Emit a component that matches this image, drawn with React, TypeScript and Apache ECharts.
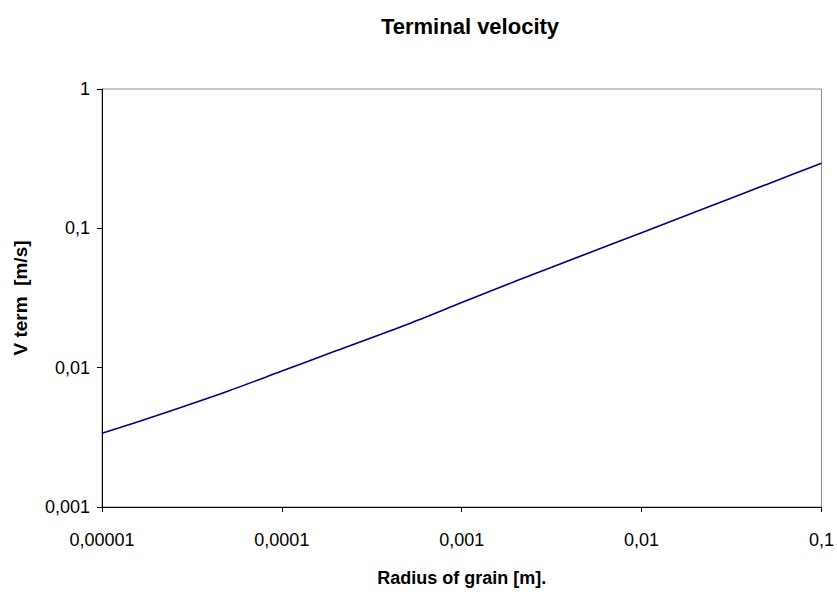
import React, { useEffect, useRef } from "react";
import * as echarts from "echarts";

// Grain radius [m] and the matching terminal velocity [m/s]
const radius = [1e-5, 2e-5, 5e-5, 1e-4, 2e-4, 5e-4, 1e-3, 2e-3, 5e-3, 1e-2, 2e-2, 5e-2, 1e-1];
const vTerm = [0.00338, 0.00452, 0.00678, 0.00946, 0.0132, 0.0205, 0.0293, 0.0418, 0.0661, 0.0931, 0.1315, 0.2075, 0.293];

// Decade tick labels, written with a decimal comma
const xTickLabels: Record<number, string> = { [-5]: "0,00001", [-4]: "0,0001", [-3]: "0,001", [-2]: "0,01", [-1]: "0,1" };
const yTickLabels: Record<number, string> = { [-3]: "0,001", [-2]: "0,01", [-1]: "0,1", [0]: "1" };

const FONT = "'Liberation Sans', Arial, sans-serif";

export default function App() {
  const ref = useRef<HTMLDivElement>(null);

  useEffect(() => {
    if (!ref.current) return;
    const chart = echarts.init(ref.current, undefined, { renderer: "svg" });
    const expOf = (v: number) => Math.round(Math.log10(v));

    chart.setOption({
      animation: false,
      backgroundColor: "#ffffff",
      title: {
        text: "Terminal velocity",
        left: 465,
        top: 10,
        textAlign: "center",
        textStyle: { fontFamily: FONT, fontSize: 22, fontWeight: "bold", color: "#000" },
      },
      grid: {
        left: 102,
        right: 15,
        top: 89,
        bottom: 87,
        show: true,
        borderColor: "#8c8c8c",
        borderWidth: 1,
        backgroundColor: "#ffffff",
      },
      xAxis: {
        type: "log",
        logBase: 10,
        min: 1e-5,
        max: 0.1,
        name: "Radius of grain [m].",
        nameLocation: "middle",
        nameGap: 62,
        nameTextStyle: { fontFamily: FONT, fontSize: 18, fontWeight: "bold", color: "#000" },
        axisLine: { show: true, onZero: false, lineStyle: { color: "#000", width: 1 } },
        axisTick: { show: true, inside: false, length: 5, lineStyle: { color: "#000" } },
        minorTick: { show: false },
        splitLine: { show: false },
        axisLabel: {
          margin: 24,
          fontFamily: FONT,
          fontSize: 18,
          color: "#000",
          formatter: (v: number) => xTickLabels[expOf(v)] ?? "",
        },
      },
      yAxis: {
        type: "log",
        logBase: 10,
        min: 0.001,
        max: 1,
        name: "V term  [m/s]",
        nameLocation: "middle",
        nameGap: 72,
        nameTextStyle: { fontFamily: FONT, fontSize: 19, fontWeight: "bold", color: "#000" },
        axisLine: { show: true, onZero: false, lineStyle: { color: "#000", width: 1 } },
        axisTick: { show: true, inside: false, length: 5, lineStyle: { color: "#000" } },
        minorTick: { show: false },
        splitLine: { show: false },
        axisLabel: {
          margin: 12,
          fontFamily: FONT,
          fontSize: 18,
          color: "#000",
          formatter: (v: number) => yTickLabels[expOf(v)] ?? "",
        },
      },
      series: [
        {
          type: "line",
          data: radius.map((r, i) => [r, vTerm[i]]),
          showSymbol: false,
          symbol: "none",
          smooth: 0.3,
          lineStyle: { color: "#000080", width: 1.6 },
          clip: true,
        },
      ],
    });

    return () => chart.dispose();
  }, []);

  return (
    <div
      ref={ref}
      style={{ position: "absolute", left: 0, top: 0, width: 837, height: 594, background: "#fff" }}
    />
  );
}
